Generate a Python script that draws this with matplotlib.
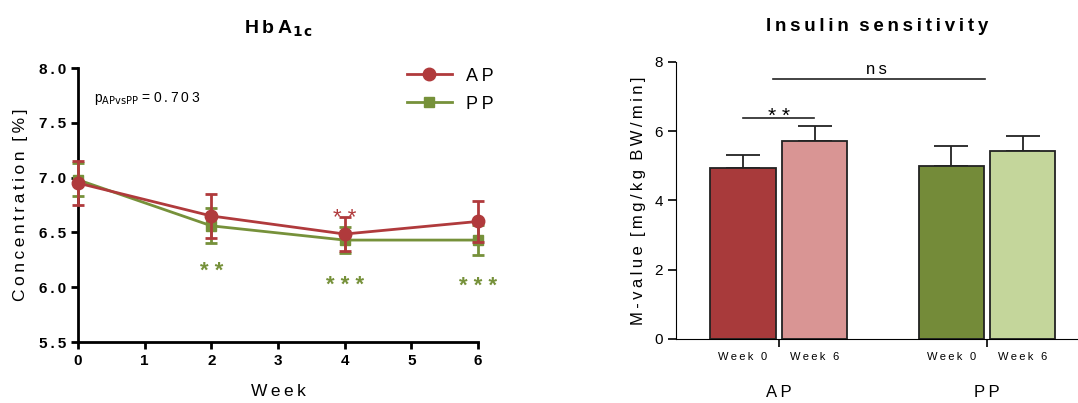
import numpy as np
import matplotlib.pyplot as plt
from matplotlib.lines import Line2D

plt.rcParams['font.family'] = ['Liberation Sans', 'DejaVu Sans']

# HbA1c data
weeks = [0, 2, 4, 6]
ap_mean = [6.95, 6.65, 6.485, 6.60]
ap_sem = [0.20, 0.20, 0.155, 0.19]
pp_mean = [6.98, 6.56, 6.43, 6.43]
pp_sem = [0.15, 0.16, 0.12, 0.135]
pp_stars = {2: '**', 4: '***', 6: '***'}
ap_stars = {4: '**'}

# Insulin sensitivity data
groups = ['AP', 'PP']
week_labels = ['Week 0', 'Week 6']
mval_mean = [[4.94, 5.73], [4.99, 5.44]]
mval_sem = [[0.38, 0.43], [0.59, 0.41]]

red = '#B03A3C'
green = '#76913A'
bar_colors = [['#A83A3B', '#D99594'], ['#748B39', '#C4D69B']]


def sp(s):
    # wide letter spacing like the original
    return '\u2009'.join(s)


fig = plt.figure(figsize=(10.78, 4.03), dpi=100)

# ---- left panel
ax = fig.add_axes([78/1078, 61/403, 400/1078, 274/403])
ax.errorbar(weeks, pp_mean, yerr=pp_sem, color=green, marker='s', ms=7.5, lw=2,
            capsize=4, capthick=2, elinewidth=2, clip_on=False, zorder=3)
ax.errorbar(weeks, ap_mean, yerr=ap_sem, color=red, marker='o', ms=9, lw=2,
            capsize=4, capthick=2, elinewidth=2, clip_on=False, zorder=4)
ax.set_xlim(0, 6)
ax.set_ylim(5.5, 8.0)
ax.set_xticks(range(7))
ax.set_yticks(np.arange(5.5, 8.01, 0.5))
ax.set_yticklabels([sp(f'{v:.1f}') for v in np.arange(5.5, 8.01, 0.5)])
for s in ['top', 'right']:
    ax.spines[s].set_visible(False)
for s in ['left', 'bottom']:
    ax.spines[s].set_linewidth(2)
ax.tick_params(width=2, length=5, labelsize=11)
for lab in ax.get_xticklabels() + ax.get_yticklabels():
    lab.set_fontweight('bold')
ax.set_xlabel(sp('Week'), fontsize=12.5, labelpad=12)
ax.set_ylabel(sp('Concentration') + '  ' + sp('[%]'), fontsize=12.5, labelpad=8)
ax.set_title(sp('HbA') + '$_{\\mathbf{1\\,c}}$', fontsize=14, fontweight='bold', pad=25)
ax.text(0.04, 0.89, 'p$_{\\mathrm{APvsPP}}$ = ' + sp('0.703'), transform=ax.transAxes,
        fontsize=10, va='center')
for wk, st in pp_stars.items():
    y = pp_mean[weeks.index(wk)] - pp_sem[weeks.index(wk)]
    ax.text(wk, y - 0.2 - 0.03 * len(st), ' '.join(st), color=green, fontsize=16,
            ha='center', va='center', fontweight='bold')
for wk, st in ap_stars.items():
    y = ap_mean[weeks.index(wk)] + ap_sem[weeks.index(wk)]
    ax.text(wk, y - 0.01, ' '.join(st), color=red, fontsize=16,
            ha='center', va='center')
handles = [Line2D([], [], color=red, marker='o', ms=9, lw=2),
           Line2D([], [], color=green, marker='s', ms=7.5, lw=2)]
ax.legend(handles, [sp('AP'), sp('PP')], loc='upper right', frameon=False, fontsize=13,
          handlelength=2.5, bbox_to_anchor=(1.08, 1.06), labelspacing=0.6)

# ---- right panel
ax2 = fig.add_axes([676/1078, 64/403, 402/1078, 277/403])
centers = [0, 3.2]
offs = [-0.55, 0.55]
for gi, c in enumerate(centers):
    for wi, o in enumerate(offs):
        m = mval_mean[gi][wi]
        ax2.bar(c + o, m, width=1.0, color=bar_colors[gi][wi], edgecolor='#222222',
                linewidth=1.3, zorder=2)
        ax2.errorbar(c + o, m, yerr=[[0], [mval_sem[gi][wi]]], color='#222222',
                     capsize=12, elinewidth=1.3, capthick=1.3, zorder=1)
        ax2.text(c + o, -0.38, sp(week_labels[wi]), ha='center', va='top', fontsize=8)
    ax2.text(c, -1.55, sp(groups[gi]), ha='center', va='center', fontsize=12)
ax2.set_xlim(-1.58, 4.6)
ax2.set_ylim(0, 8)
ax2.set_xticks(centers)
ax2.set_xticklabels([])
ax2.set_yticks([0, 2, 4, 6, 8])
for s in ['top', 'right']:
    ax2.spines[s].set_visible(False)
ax2.tick_params(length=6, labelsize=11, width=1.2)
ax2.set_ylabel(sp('M-value') + '  ' + sp('[mg/kg') + '  ' + sp('BW/min]'),
               fontsize=12, labelpad=6)
ax2.set_title(sp('Insulin') + '  ' + sp('sensitivity'), fontsize=13.5,
              fontweight='bold', pad=22)
# significance lines
ax2.plot([-0.55, 0.54], [6.39, 6.39], color='#222222', lw=1.2)
ax2.text(0, 6.42, '* *', ha='center', va='center', fontsize=15)
ax2.plot([-0.09, 3.17], [7.51, 7.51], color='#222222', lw=1.2)
ax2.text(1.5, 7.56, sp('ns'), ha='center', va='bottom', fontsize=12)

fig.savefig('out.png', dpi=100)
